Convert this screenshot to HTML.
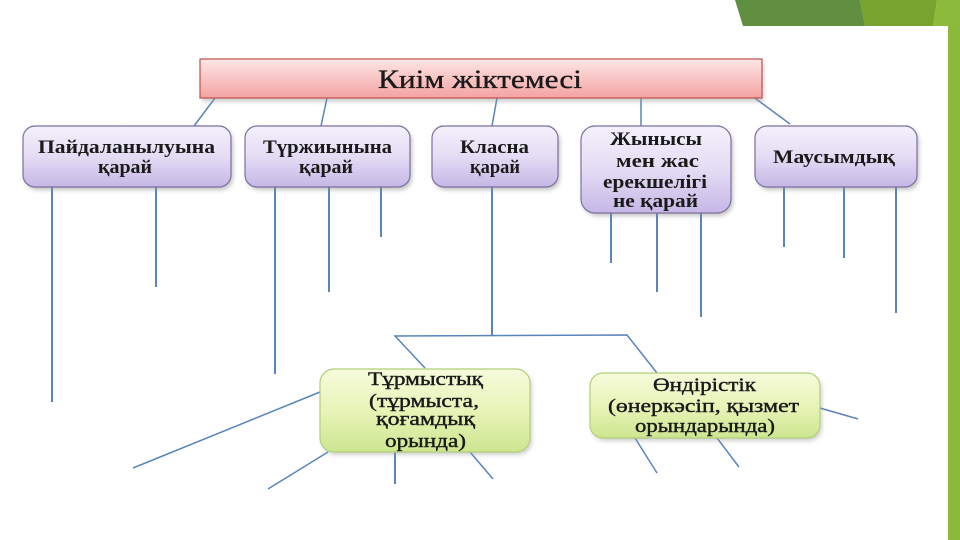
<!DOCTYPE html>
<html><head><meta charset="utf-8"><style>
html,body{margin:0;padding:0;background:#fff;}
svg{display:block;}
text{font-family:"Liberation Serif",serif;fill:#1a1a1a;}
</style></head><body>
<svg width="960" height="540" viewBox="0 0 960 540" xmlns="http://www.w3.org/2000/svg">
<defs>
<linearGradient id="gr" x1="0" y1="0" x2="0" y2="1"><stop offset="0" stop-color="#fde6e6"/><stop offset="1" stop-color="#f3a3a2"/></linearGradient>
<linearGradient id="gp" x1="0" y1="0" x2="0" y2="1"><stop offset="0" stop-color="#f4f1fb"/><stop offset="0.5" stop-color="#e4dcf4"/><stop offset="1" stop-color="#c6b7e6"/></linearGradient>
<linearGradient id="gg" x1="0" y1="0" x2="0" y2="1"><stop offset="0" stop-color="#f6fbdc"/><stop offset="0.5" stop-color="#e8f4b8"/><stop offset="1" stop-color="#cde690"/></linearGradient>
<filter id="sh" x="-10%" y="-20%" width="120%" height="150%"><feGaussianBlur stdDeviation="2"/></filter>
</defs>

<!-- green decorations -->
<polygon points="735,0 860,0 865,26 743,26" fill="#5f8f3f"/>
<polygon points="860,0 937,0 933,26 865,26" fill="#78a32e"/>
<polygon points="937,0 960,0 960,26 933,26" fill="#8cba3a"/>
<rect x="948" y="26" width="12" height="514" fill="#8cb93a"/>

<!-- connectors -->
<g stroke="#5a84bd" stroke-width="1.5" fill="none">
<line x1="215" y1="98" x2="194" y2="126"/>
<line x1="327" y1="98" x2="321" y2="126"/>
<line x1="497" y1="98" x2="492" y2="126"/>
<line x1="641" y1="98" x2="641" y2="126"/>
<line x1="752" y1="96" x2="790" y2="124"/>
</g>
<g stroke="#5a84bd" stroke-width="2" fill="none">
<line x1="52" y1="187" x2="52" y2="402"/>
<line x1="156" y1="187" x2="156" y2="287"/>
<line x1="275" y1="187" x2="275" y2="374"/>
<line x1="329" y1="187" x2="329" y2="292"/>
<line x1="381" y1="187" x2="381" y2="237"/>
<line x1="492" y1="187" x2="492" y2="335"/>
<line x1="611" y1="213" x2="611" y2="263"/>
<line x1="657" y1="213" x2="657" y2="292"/>
<line x1="701" y1="213" x2="701" y2="317"/>
<line x1="784" y1="187" x2="784" y2="247"/>
<line x1="844" y1="187" x2="844" y2="258"/>
<line x1="896" y1="187" x2="896" y2="313"/>
<line x1="395" y1="452" x2="395" y2="484"/>
</g>
<g stroke="#5a84bd" stroke-width="1.5" fill="none">
<polyline points="425,368 395,336 627,335 657,373"/>
<line x1="320" y1="392" x2="133" y2="468"/>
<line x1="328" y1="452" x2="268" y2="489"/>
<line x1="470" y1="452" x2="493" y2="479"/>
<line x1="635" y1="438" x2="657" y2="473"/>
<line x1="717" y1="438" x2="739" y2="467"/>
<line x1="820" y1="408" x2="858" y2="419"/>
</g>

<!-- title -->
<rect x="202" y="62" width="562" height="40" fill="#999" opacity="0.45" filter="url(#sh)"/>
<rect x="200" y="59" width="562" height="39" fill="url(#gr)" stroke="#c0504d" stroke-width="1.2"/>
<text x="480" y="88" font-size="26" text-anchor="middle" textLength="204" lengthAdjust="spacingAndGlyphs" stroke="#1a1a1a" stroke-width="0.35">Киім жіктемесі</text>

<!-- purple boxes -->
<g>
<rect x="25" y="129" width="208" height="61" rx="12" fill="#888" opacity="0.5" filter="url(#sh)"/>
<rect x="23" y="126" width="208" height="61" rx="12" fill="url(#gp)" stroke="#7d6f9e" stroke-width="1.2"/>
<rect x="247" y="129" width="165" height="61" rx="12" fill="#888" opacity="0.5" filter="url(#sh)"/>
<rect x="245" y="126" width="165" height="61" rx="12" fill="url(#gp)" stroke="#7d6f9e" stroke-width="1.2"/>
<rect x="434" y="129" width="126" height="61" rx="12" fill="#888" opacity="0.5" filter="url(#sh)"/>
<rect x="432" y="126" width="126" height="61" rx="12" fill="url(#gp)" stroke="#7d6f9e" stroke-width="1.2"/>
<rect x="583" y="129" width="150" height="87" rx="14" fill="#888" opacity="0.5" filter="url(#sh)"/>
<rect x="581" y="126" width="150" height="87" rx="14" fill="url(#gp)" stroke="#7d6f9e" stroke-width="1.2"/>
<rect x="757" y="129" width="162" height="61" rx="12" fill="#888" opacity="0.5" filter="url(#sh)"/>
<rect x="755" y="126" width="162" height="61" rx="12" fill="url(#gp)" stroke="#7d6f9e" stroke-width="1.2"/>
</g>
<g font-size="19" font-weight="bold" text-anchor="middle">
<text x="126.5" y="153" textLength="177" lengthAdjust="spacingAndGlyphs">Пайдаланылуына</text>
<text x="125" y="173" textLength="54" lengthAdjust="spacingAndGlyphs">қарай</text>
<text x="327.5" y="153" textLength="129" lengthAdjust="spacingAndGlyphs">Түржиынына</text>
<text x="326" y="173" textLength="54" lengthAdjust="spacingAndGlyphs">қарай</text>
<text x="494.5" y="153" textLength="69" lengthAdjust="spacingAndGlyphs">Класна</text>
<text x="495" y="173" textLength="50" lengthAdjust="spacingAndGlyphs">қарай</text>
<text x="656" y="145" textLength="92" lengthAdjust="spacingAndGlyphs">Жынысы</text>
<text x="657.5" y="167" textLength="83" lengthAdjust="spacingAndGlyphs">мен жас</text>
<text x="655" y="188" textLength="104" lengthAdjust="spacingAndGlyphs">ерекшелігі</text>
<text x="655.5" y="207" textLength="85" lengthAdjust="spacingAndGlyphs">не қарай</text>
<text x="834" y="163" textLength="122" lengthAdjust="spacingAndGlyphs">Маусымдық</text>
</g>

<!-- green boxes -->
<rect x="322" y="372" width="210" height="83" rx="14" fill="#999" opacity="0.45" filter="url(#sh)"/>
<rect x="320" y="369" width="210" height="83" rx="14" fill="url(#gg)" stroke="#b3cf78" stroke-width="1.2"/>
<rect x="592" y="376" width="230" height="65" rx="13" fill="#999" opacity="0.45" filter="url(#sh)"/>
<rect x="590" y="373" width="230" height="65" rx="13" fill="url(#gg)" stroke="#b3cf78" stroke-width="1.2"/>
<g font-size="19" text-anchor="middle" stroke="#1a1a1a" stroke-width="0.4">
<text x="425.5" y="385" textLength="115" lengthAdjust="spacingAndGlyphs">Тұрмыстық</text>
<text x="424" y="407" textLength="110" lengthAdjust="spacingAndGlyphs">(тұрмыста,</text>
<text x="425.5" y="425" textLength="99" lengthAdjust="spacingAndGlyphs">қоғамдық</text>
<text x="425.5" y="447" textLength="81" lengthAdjust="spacingAndGlyphs">орында)</text>
<text x="704.5" y="391" textLength="103" lengthAdjust="spacingAndGlyphs">Өндірістік</text>
<text x="703.5" y="412" textLength="191" lengthAdjust="spacingAndGlyphs">(өнеркәсіп, қызмет</text>
<text x="705" y="432" textLength="140" lengthAdjust="spacingAndGlyphs">орындарында)</text>
</g>
</svg>
</body></html>
